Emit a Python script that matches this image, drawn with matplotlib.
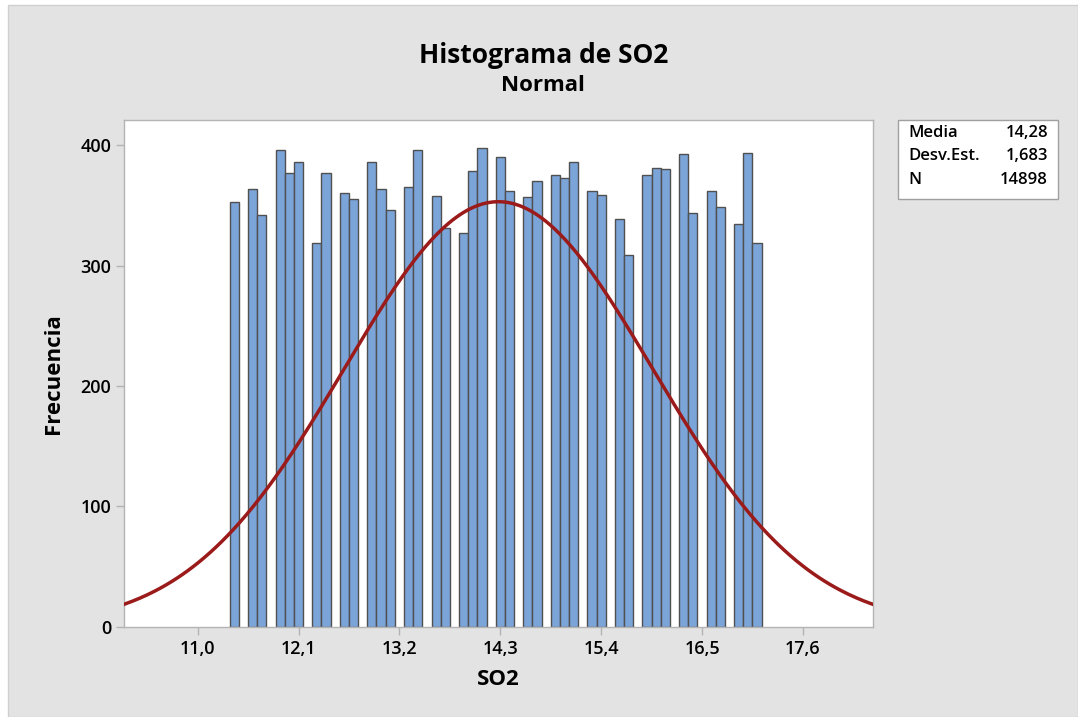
import numpy as np
import matplotlib.pyplot as plt
from matplotlib.patches import Rectangle

plt.rcParams['font.family'] = ['Open Sans', 'DejaVu Sans']

# bin centers (bin width 0.1) and counts
bin_centers = [11.4, 11.6, 11.7, 11.9, 12.0, 12.1, 12.3, 12.4, 12.6, 12.7,
               12.9, 13.0, 13.1, 13.3, 13.4, 13.6, 13.7, 13.9, 14.0, 14.1,
               14.3, 14.4, 14.6, 14.7, 14.9, 15.0, 15.1, 15.3, 15.4, 15.6,
               15.7, 15.9, 16.0, 16.1, 16.3, 16.4, 16.6, 16.7, 16.9, 17.0,
               17.1]
counts = [353, 364, 342, 396, 377, 386, 319, 377, 360, 355,
          386, 364, 346, 365, 396, 358, 331, 327, 379, 398,
          390, 362, 357, 370, 375, 373, 386, 362, 359, 339,
          309, 375, 381, 380, 393, 344, 362, 349, 335, 394,
          319]
bin_width = 0.1

media = 14.28
desv = 1.683
n = 14898

xticks = [11.0, 12.1, 13.2, 14.3, 15.4, 16.5, 17.6]
xtick_labels = ['11,0', '12,1', '13,2', '14,3', '15,4', '16,5', '17,6']
yticks = [0, 100, 200, 300, 400]

fig = plt.figure(figsize=(10.78, 7.17), dpi=100)
fig.patch.set_facecolor('white')
fig.patches.append(Rectangle((8 / 1078, 0), 1 - 8 / 1078, 1 - 5 / 717,
                             transform=fig.transFigure, facecolor='#e3e3e3',
                             edgecolor='#cfcfcf', linewidth=1, zorder=-10))

ax = fig.add_axes([0.1153, 0.1259, 0.6945, 0.7067])
ax.set_facecolor('white')

ax.bar(bin_centers, counts, width=bin_width, color='#7ba4d9',
       edgecolor='#505050', linewidth=1.0, zorder=2)

xlo, xhi = 10.2, 18.364
xs = np.linspace(xlo, xhi, 400)
ys = n * bin_width / (desv * np.sqrt(2 * np.pi)) * np.exp(-0.5 * ((xs - media) / desv) ** 2)
ax.plot(xs, ys, color='#9b1b1b', linewidth=2.5, zorder=3)

ax.set_xlim(xlo, xhi)
ax.set_ylim(0, 421)
ax.set_xticks(xticks)
ax.set_xticklabels(xtick_labels)
ax.set_yticks(yticks)
for s in ax.spines.values():
    s.set_color('#b4b4b4')
    s.set_linewidth(1)
ax.tick_params(axis='both', colors='#b4b4b4', length=6, width=1,
               labelsize=13, labelcolor='black')
for lab in ax.get_xticklabels() + ax.get_yticklabels():
    lab.set_fontweight('semibold')

ax.set_xlabel('SO2', fontsize=16, fontweight='bold', labelpad=8)
ax.set_ylabel('Frecuencia', fontsize=16, fontweight='bold', labelpad=12)

fig.text(0.504, 0.923, 'Histograma de SO2', ha='center', va='center',
         fontsize=19, fontweight='bold')
fig.text(0.504, 0.881, 'Normal', ha='center', va='center',
         fontsize=16, fontweight='bold')

# stats box
bx0, by0, bx1, by1 = 898 / 1078, 1 - 199 / 717, 1058 / 1078, 1 - 120 / 717
fig.patches.append(Rectangle((bx0, by0), bx1 - bx0, by1 - by0,
                             transform=fig.transFigure, facecolor='white',
                             edgecolor='#a0a0a0', linewidth=1))
stat_names = ['Media', 'Desv.Est.', 'N']
stat_values = ['14,28', '1,683', '14898']
for i, (nm, val) in enumerate(zip(stat_names, stat_values)):
    yy = 1 - (133 + 23.5 * i) / 717
    fig.text(908 / 1078, yy, nm, ha='left', va='center', fontsize=12,
             fontweight='semibold')
    fig.text(1048 / 1078, yy, val, ha='right', va='center', fontsize=12,
             fontweight='semibold')

fig.savefig('out.png', dpi=100)
